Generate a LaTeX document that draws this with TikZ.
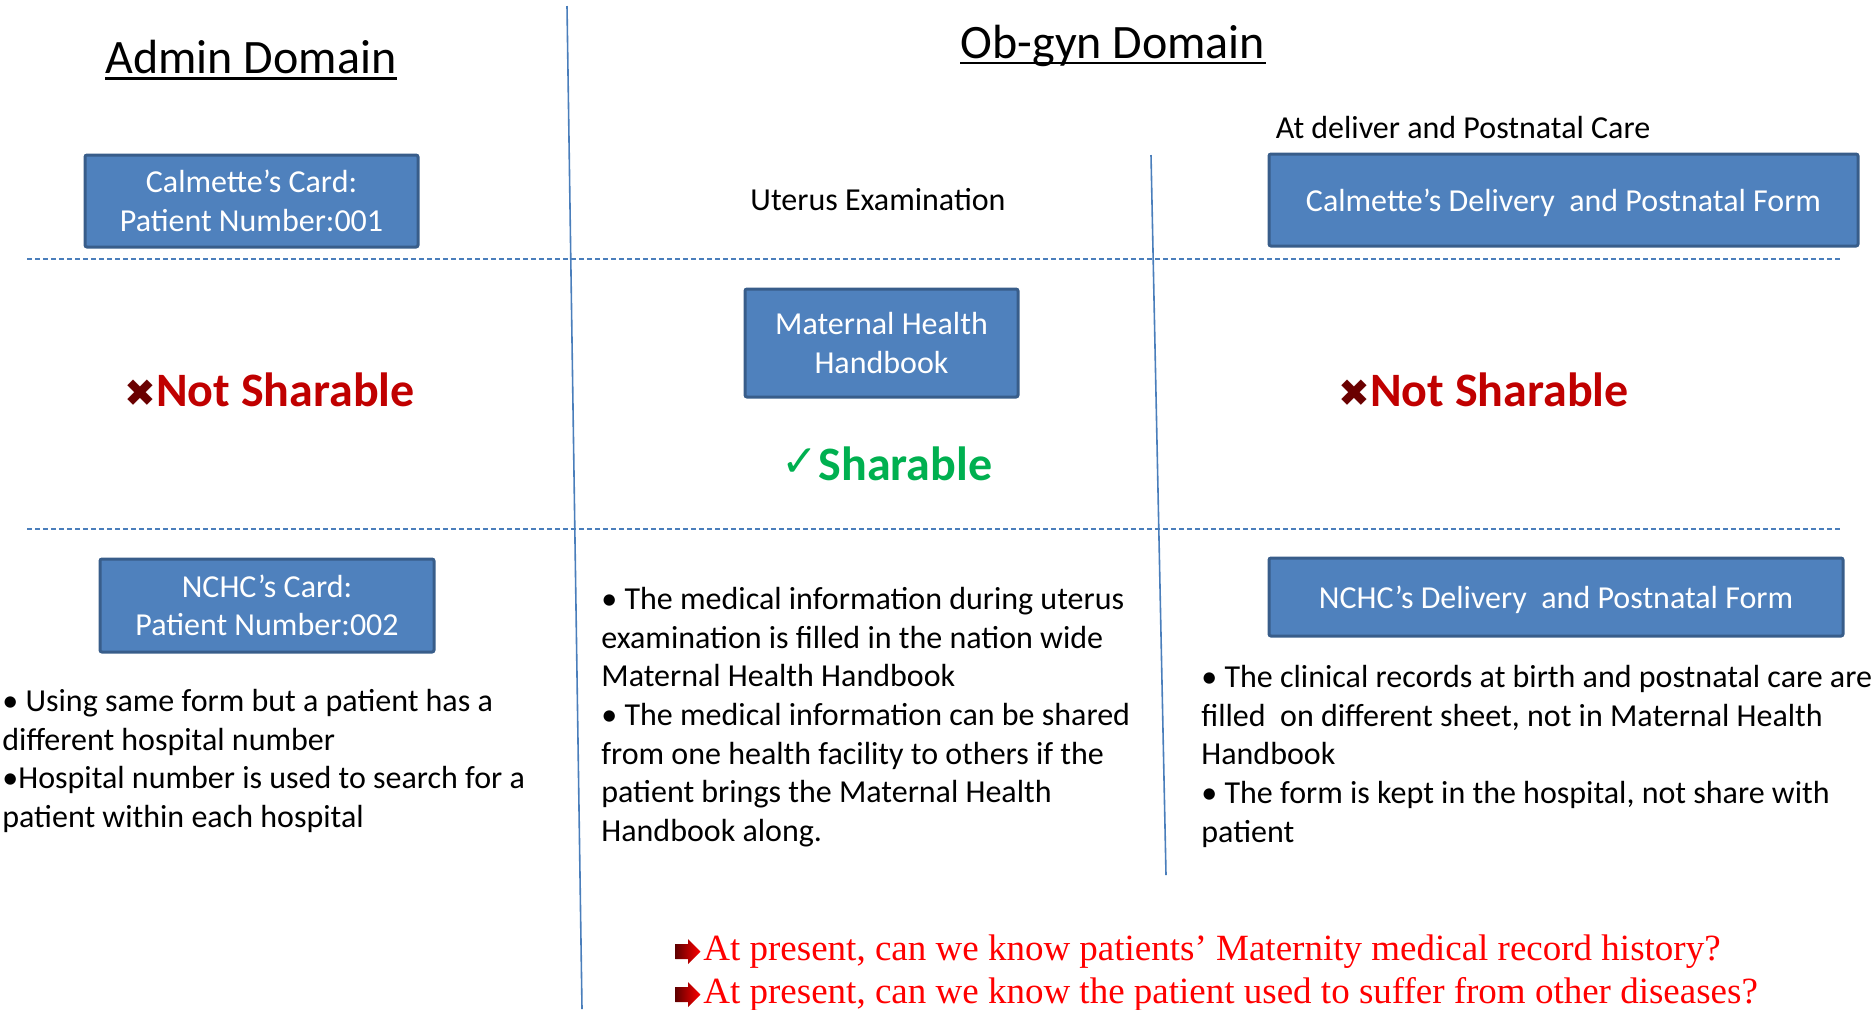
\documentclass[tikz,border=0pt]{standalone}
\usepackage{fontspec}
\setmainfont{Carlito}
\newfontfamily\dingfont{DejaVu Sans}
\newfontfamily\timesfont{Liberation Serif}
\usepackage{tikz}
\usetikzlibrary{positioning,shapes.arrows}
\definecolor{boxblue}{HTML}{4F81BD}
\definecolor{boxedge}{HTML}{385D8A}
\definecolor{lineblue}{HTML}{4A7EBB}
\definecolor{notred}{HTML}{C00000}
\definecolor{crossred}{HTML}{6A0000}
\definecolor{okgreen}{HTML}{00B050}
\definecolor{askred}{HTML}{FF0000}
\definecolor{arrowdark}{HTML}{600000}
\newcommand{\bodyfont}{\fontsize{16}{19.3}\selectfont}
\newcommand{\nosign}{{\dingfont\fontsize{19}{19}\selectfont\textcolor{crossred}{✖}}}
\newcommand{\yessign}{{\dingfont\fontsize{22}{22}\selectfont\raisebox{2pt}{✓}}}

\begin{document}
\begin{tikzpicture}[x=1pt,y=-1pt,
  card/.style={draw=boxedge, line width=1.5pt, fill=boxblue, text=white, rounded corners=1pt, align=center, font=\bodyfont, inner sep=0pt},
  divider/.style={draw=lineblue, line width=0.8pt},
  row/.style={draw=lineblue, line width=0.6pt, dash pattern=on 2.5pt off 1.5pt},
  title/.style={font=\fontsize{24}{28}\selectfont, inner sep=0pt},
  underbar/.style={line width=1.3pt},
  note/.style={font=\bodyfont, align=left, anchor=north west, inner sep=0pt},
  verdict/.style={font=\fontsize{24}{28}\selectfont\bfseries},
  ask/.style={font=\timesfont\fontsize{18.5}{21.5}\selectfont, text=askred, anchor=west, inner sep=0pt},
  askarrow/.style={single arrow, single arrow head extend=2.5pt, minimum height=12.5pt, inner xsep=0pt, inner ysep=3.5pt, left color=arrowdark, right color=askred, draw=none}]
  \useasboundingbox (0,0) rectangle (937,504.5);

  \draw[divider] (283.5,3) -- (291,504.5);
  \draw[divider] (575.5,77.5) -- (583,437.5);
  \draw[row] (13.5,129.5) -- (920,129.5);
  \draw[row] (13.5,264.5) -- (920,264.5);

  \node[title] (admin) at (125.5,28.5) {Admin Domain};
  \node[title] (obgyn) at (556.5,22.8) {Ob-gyn Domain};
  \draw[underbar] ([yshift=-2.5pt]admin.base west) -- ([yshift=-2.5pt]admin.base east);
  \draw[underbar] ([yshift=-2.5pt]obgyn.base west) -- ([yshift=-2.5pt]obgyn.base east);
  \node[font=\bodyfont] (deliver) at (731.5,63.5) {At deliver and Postnatal Care};
  \node[font=\bodyfont] (uterus) at (439,100) {Uterus Examination};

  \node[card, minimum width=166.5pt, minimum height=46pt] (calcard) at (125.75,100.5) {Calmette’s Card:\\Patient Number:001};
  \node[card, text depth=0pt, minimum width=294.5pt, minimum height=46pt] (calform) at (781.75,100) {Calmette’s Delivery~ and Postnatal Form};
  \node[card, minimum width=136.5pt, minimum height=54pt] (handbook) at (440.75,171.5) {Maternal Health\\Handbook};
  \node[card, minimum width=167pt, minimum height=46.5pt] (nchccard) at (133.5,302.75) {NCHC’s Card:\\Patient Number:002};
  \node[card, text depth=0pt, minimum width=287pt, minimum height=39pt] (nchcform) at (778,298.5) {NCHC’s Delivery~ and Postnatal Form};

  \node[verdict, text=notred] (adminno) at (134.75,195) {\nosign Not Sharable};
  \node[verdict, text=notred] (formno) at (741.75,195) {\nosign Not Sharable};
  \node[verdict, text=okgreen] (bookok) at (443.5,232) {\yessign Sharable};

  \node[note] (adminnote) at (1,344.5) {• Using same form but a patient has a\\different hospital number\\•Hospital number is used to search for a\\patient within each hospital};
  \node[note] (booknote) at (300.5,293.5) {• The medical information during uterus\\examination is filled in the nation wide\\Maternal Health Handbook\\• The medical information can be shared\\from one health facility to others if the\\patient brings the Maternal Health\\Handbook along.};
  \node[note] (formnote) at (600.5,332.5) {• The clinical records at birth and postnatal care are\\filled~ on different sheet, not in Maternal Health\\Handbook\\• The form is kept in the hospital, not share with\\patient};

  \node[ask] (ask1) at (351.5,475.8) {At present, can we know patients’ Maternity medical record history?};
  \node[ask] (ask2) at (351.5,497.3) {At present, can we know the patient used to suffer from other diseases?};
  \node[askarrow, left=1pt of ask1] (arrow1) {};
  \node[askarrow, left=1pt of ask2] (arrow2) {};
\end{tikzpicture}
\end{document}
